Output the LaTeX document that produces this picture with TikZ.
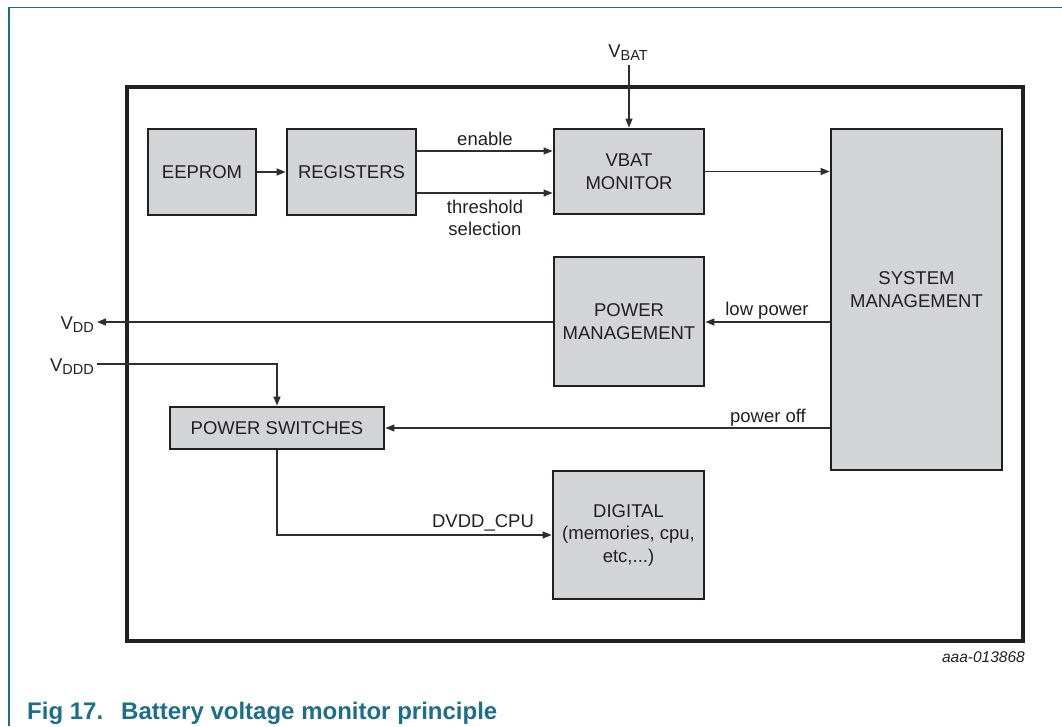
\documentclass[tikz,border=0pt]{standalone}
\usepackage{fontspec}
\setmainfont{Liberation Sans}
\usetikzlibrary{arrows.meta}
\definecolor{nxpteal}{HTML}{1B6F89}
\definecolor{boxfill}{HTML}{D3D4D6}
\definecolor{boxline}{HTML}{231F20}
\definecolor{wire}{HTML}{2E2E2E}
\newcommand{\sub}[1]{\raisebox{-3pt}{\fontsize{14.5}{14.5}\selectfont #1}}
\begin{document}
\begin{tikzpicture}[x=1pt,y=-1pt,
  every node/.style={font=\fontsize{18.5}{22.5}\selectfont, text=boxline},
  block/.style={draw=boxline, line width=2.8pt, fill=boxfill, inner sep=0pt, align=center},
  wireline/.style={draw=wire, line width=1.2pt},
  sig/.style={wireline, -{Triangle[length=9pt,width=7pt]}},
  lbl/.style={inner sep=0pt, align=center}]
\useasboundingbox (0,0) rectangle (1062,726);
% outer page frame (top and left rules)
\draw[nxpteal, line width=1.6pt] (1062,7.5) -- (9,7.5) -- (9,726);
% chip outline
\draw[boxline, line width=3.2pt] (127,87) rectangle (1023,641);
% blocks
\node[block, minimum width=108pt, minimum height=86pt] (eeprom) at (202,172) {EEPROM};
\node[block, minimum width=129pt, minimum height=86pt] (regs) at (351.5,172) {REGISTERS};
\node[block, minimum width=150pt, minimum height=85pt] (vbat) at (629,171.5) {VBAT\\MONITOR};
\node[block, minimum width=171pt, minimum height=341pt] (sysm) at (916.5,299.5) {};
\node[lbl] (sysmtxt) at (916.5,289.5) {SYSTEM\\MANAGEMENT};
\node[block, minimum width=150pt, minimum height=129pt] (pwrm) at (629,321.5) {POWER\\MANAGEMENT};
\node[block, minimum width=214pt, minimum height=42pt] (pwrsw) at (277,428) {POWER SWITCHES};
\node[block, minimum width=151pt, minimum height=128pt] (dig) at (628.5,535) {DIGITAL\\(memories, cpu,\\etc,...)};
% external pins
\node[lbl, anchor=base] (vbatpin) at (628,57) {V\sub{BAT}};
\node[lbl, anchor=base east] (vdd) at (94,329) {V\sub{DD}};
\node[lbl, anchor=base east] (vddd) at (94,371) {V\sub{DDD}};
\coordinate (vbattop) at (629,65);
\coordinate (vddend) at (97,322);
\coordinate (vdddend) at (97,364);
% connectors
\draw[sig] (eeprom.east) -- (regs.west);
\draw[sig] (regs.east |- 0,151) -- node[lbl, above=5pt] (enlbl) {enable} (vbat.west |- 0,151);
\draw[sig] (regs.east |- 0,193) -- node[lbl, below=6pt] (thlbl) {threshold\\selection} (vbat.west |- 0,193);
\draw[sig] (vbattop) -- (vbat.north);
\draw[sig] (vbat.east) -- (sysm.west |- vbat.east);
\draw[sig] (sysm.west |- 0,322) -- (pwrm.east |- 0,322);
\node[lbl, anchor=base] (lplbl) at (767,315) {low power};
\draw[sig] (pwrm.west |- 0,322) -- (vddend);
\draw[sig] (vdddend) -| (pwrsw.north);
\draw[sig] (sysm.west |- pwrsw.east) -- (pwrsw.east);
\node[lbl, anchor=base] (polbl) at (768,422) {power off};
\draw[sig] (pwrsw.south) |- (dig.west |- 0,535);
\node[lbl, anchor=base] (cpulbl) at (483,527) {DVDD\_CPU};
% drawing number and caption
\node[lbl, anchor=base east, font=\fontsize{15.5}{18}\selectfont\itshape] (dwg) at (1025,662) {aaa-013868};
\node[lbl, anchor=base west, font=\fontsize{24}{28}\selectfont\bfseries, text=nxpteal] (cap) at (27,719) {Fig 17.\hspace{18pt}Battery voltage monitor principle};
\end{tikzpicture}
\end{document}
